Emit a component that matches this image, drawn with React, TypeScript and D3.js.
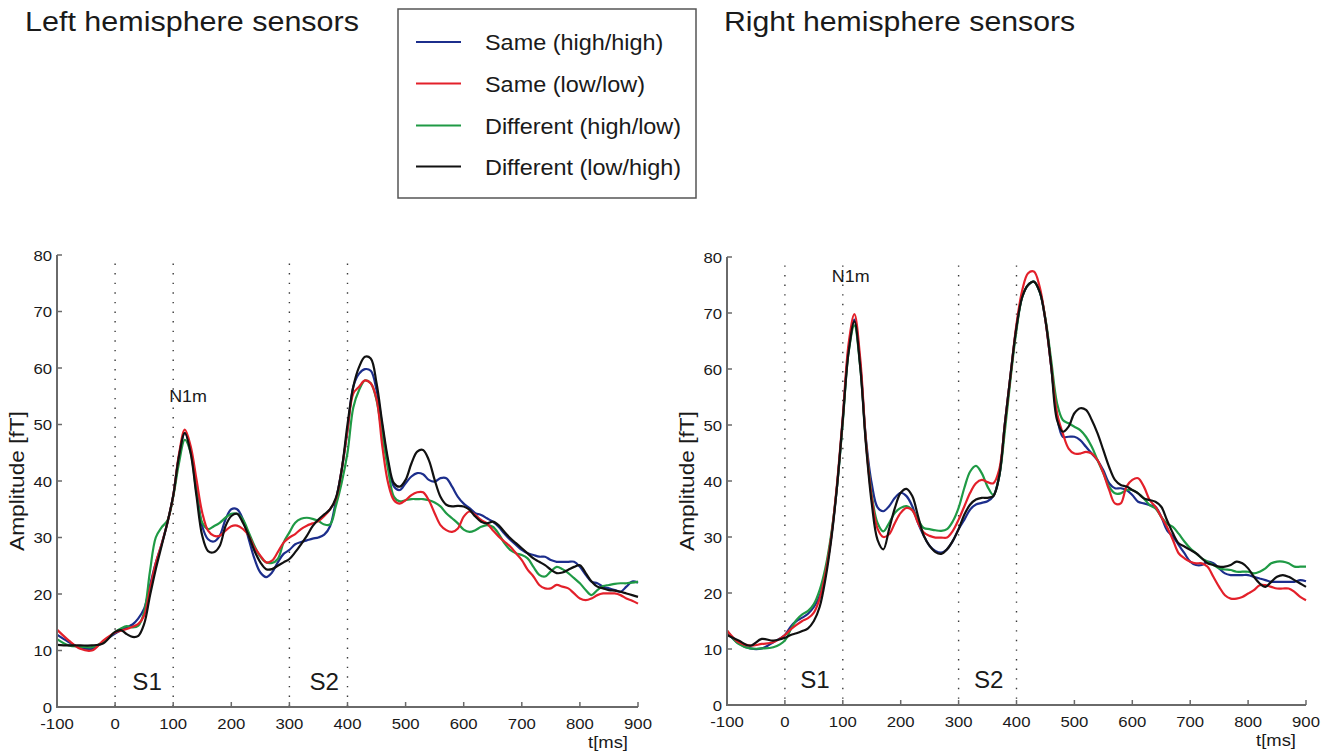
import React from 'react';
import * as d3 from 'd3';

// ---------- data ----------
const times = [
  -100, -80, -60, -40, -20,
  0, 10, 20, 30, 40, 50, 60, 70, 80, 90,
  100, 110, 120, 130, 140, 150, 160, 170, 180, 190,
  200, 210, 220, 230, 240, 250, 260, 270, 280, 290,
  300, 310, 320, 330, 340, 350, 360, 370, 380, 390,
  400, 410, 420, 430, 440, 450, 460, 470, 480, 490,
  500, 510, 520, 530, 540, 550, 560, 570, 580, 590,
  600, 610, 620, 630, 640, 650, 660, 670, 680, 690,
  700, 710, 720, 730, 740, 750, 760, 770, 780, 790,
  800, 810, 820, 830, 840, 850, 860, 870, 880, 890,
  900,
];

const leftBlue = [
  12.8, 11.5, 10.5, 10.3, 11.6,
  13.0, 13.6, 14.1, 14.6, 15.7, 17.4, 21.5, 25.5, 28.8, 32.6,
  37.4, 44.4, 48.5, 45.5, 39.0, 32.0, 29.7, 29.3, 30.3, 33.2,
  35.0, 35.0, 33.2, 29.7, 26.2, 23.8, 23.0, 23.8, 25.6, 27.1,
  27.8, 28.8, 29.2, 29.5, 29.8, 30.0, 30.5, 32.0, 36.5, 42.0,
  49.0, 56.7, 59.0, 59.8, 59.5, 56.1, 49.6, 43.1, 39.0, 38.4,
  39.6, 40.8, 41.4, 41.2, 40.2, 39.9, 40.5, 40.5, 39.0, 37.2,
  36.0, 35.2, 34.3, 34.0, 33.4, 32.8, 31.9, 30.7, 29.6, 28.7,
  27.8, 27.2, 26.9, 26.6, 26.6, 26.0, 25.7, 25.7, 25.7, 25.7,
  24.8, 23.4, 22.2, 21.9, 21.3, 21.0, 20.7, 20.4, 21.3, 22.2,
  22.0,
];
const leftRed = [
  13.7, 11.8, 10.3, 10.0, 11.8,
  13.2, 13.5, 13.8, 14.2, 14.7, 16.2, 20.9, 25.5, 28.8, 32.6,
  37.4, 44.8, 49.1, 46.2, 40.3, 34.4, 31.2, 30.3, 30.3, 31.2,
  32.0, 32.1, 31.5, 30.3, 28.2, 26.8, 25.6, 25.9, 27.4, 29.1,
  30.0, 30.6, 31.5, 32.1, 32.5, 32.9, 33.8, 35.0, 36.8, 42.0,
  49.0, 55.5, 56.7, 57.8, 57.3, 54.5, 46.1, 39.6, 36.6, 36.0,
  36.6, 37.5, 38.0, 38.0, 36.6, 34.3, 32.2, 31.3, 31.0, 31.6,
  33.7, 34.6, 34.0, 33.1, 32.5, 31.3, 30.2, 29.3, 28.4, 27.2,
  26.0, 24.3, 23.1, 21.6, 21.0, 21.0, 21.6, 21.3, 21.0, 20.1,
  19.2, 18.9, 19.2, 19.8, 20.1, 20.1, 20.1, 19.8, 19.2, 18.8,
  18.3,
];
const leftGreen = [
  12.0, 10.9, 10.7, 10.6, 11.5,
  13.3, 13.9, 14.3, 14.1, 14.4, 16.8, 24.0, 30.0, 31.8, 33.0,
  37.2, 43.2, 47.3, 45.0, 38.0, 32.6, 31.5, 32.0, 32.6, 33.5,
  34.2, 34.2, 33.2, 30.9, 28.5, 26.6, 25.6, 25.5, 26.2, 29.1,
  30.9, 32.6, 33.3, 33.5, 33.3, 32.9, 32.3, 32.3, 35.6, 39.7,
  45.0, 53.0, 56.1, 57.8, 57.3, 54.3, 47.9, 42.0, 37.2, 36.4,
  36.6, 36.8, 36.8, 36.8, 36.6, 36.2, 35.5, 34.3, 33.4, 32.5,
  31.4, 31.0, 31.3, 31.9, 32.2, 31.9, 30.7, 29.0, 27.8, 27.2,
  26.9, 26.3, 24.8, 23.4, 23.1, 24.0, 24.8, 24.4, 23.7, 22.8,
  21.9, 20.7, 19.8, 20.7, 21.4, 21.6, 21.8, 21.9, 21.9, 22.0,
  22.2,
];
const leftBlack = [
  11.0, 10.9, 10.9, 10.9, 11.3,
  13.3, 13.6, 12.9, 12.4, 12.6, 14.7, 19.7, 24.4, 28.5, 32.6,
  37.4, 44.4, 48.5, 45.0, 37.4, 30.3, 27.6, 27.4, 28.5, 32.0,
  33.8, 34.2, 32.6, 30.3, 27.6, 25.6, 24.4, 24.4, 25.0, 25.6,
  26.2, 27.4, 28.8, 30.3, 32.0, 33.2, 34.1, 35.0, 37.0, 42.0,
  50.0, 56.7, 60.2, 62.0, 61.7, 57.3, 50.2, 43.7, 39.6, 39.0,
  40.2, 43.1, 45.2, 45.5, 43.7, 40.2, 37.2, 35.8, 35.5, 35.6,
  35.5, 34.9, 33.7, 32.8, 32.5, 32.8, 32.2, 31.0, 29.9, 29.0,
  28.1, 27.2, 26.3, 25.7, 25.1, 24.3, 23.7, 23.8, 24.3, 24.8,
  25.1, 23.7, 22.2, 21.3, 21.0, 20.7, 20.6, 20.4, 20.1, 19.8,
  19.5,
];

const rightBlue = [
  13.0, 11.0, 10.1, 10.1, 11.2,
  12.5, 14.0, 15.0, 15.6, 16.3, 17.5, 19.5, 23.5, 30.0, 39.0,
  51.0, 63.5, 68.8, 61.0, 47.5, 39.5, 35.3, 34.6, 35.5, 37.0,
  37.9, 37.3, 35.5, 32.5, 30.2, 28.4, 27.5, 27.2, 27.8, 29.3,
  31.4, 33.1, 34.9, 35.8, 36.1, 36.4, 37.3, 40.8, 50.3, 59.2,
  67.5, 72.9, 75.0, 75.6, 73.8, 68.7, 60.4, 51.5, 47.9, 47.9,
  47.9, 47.3, 46.1, 44.9, 43.7, 41.9, 39.6, 38.7, 38.7, 38.4,
  37.5, 36.3, 36.0, 35.7, 35.4, 33.6, 31.2, 30.1, 28.6, 27.1,
  25.6, 25.0, 25.0, 25.6, 25.3, 24.4, 23.5, 23.2, 23.2, 23.2,
  23.2, 22.9, 22.6, 22.3, 22.0, 22.0, 22.0, 22.0, 22.0, 22.3,
  22.1,
];
const rightRed = [
  13.3, 11.2, 10.6, 10.9, 11.2,
  12.5, 13.5, 14.3, 15.0, 15.5, 16.5, 19.0, 23.5, 30.0, 39.5,
  51.5, 64.5, 69.8, 62.0, 47.0, 37.0, 31.5, 30.0, 30.5, 32.5,
  34.3, 35.2, 34.8, 32.5, 30.8, 30.2, 29.9, 29.9, 29.9, 31.1,
  33.1, 35.5, 37.9, 39.6, 40.2, 39.8, 39.6, 42.0, 50.3, 59.2,
  68.0, 74.1, 77.1, 77.4, 74.7, 68.7, 60.4, 52.1, 48.5, 45.8,
  44.9, 44.9, 45.2, 44.9, 43.7, 41.4, 38.4, 36.0, 36.0, 39.0,
  40.2, 40.5, 39.0, 36.6, 35.4, 33.6, 31.8, 29.5, 27.1, 26.2,
  25.6, 25.3, 25.3, 24.7, 22.9, 21.1, 19.6, 19.0, 19.0, 19.3,
  19.9, 20.5, 21.4, 21.4, 21.1, 20.8, 20.8, 20.8, 20.2, 19.3,
  18.7,
];
const rightGreen = [
  13.3, 10.9, 10.1, 10.1, 10.3,
  11.5, 13.5, 15.2, 16.2, 16.8, 18.0, 20.5, 24.5, 30.5, 39.0,
  50.5, 63.0, 67.8, 60.5, 47.0, 37.5, 32.5, 31.0, 32.5, 34.3,
  35.2, 35.5, 34.8, 33.1, 31.6, 31.4, 31.2, 31.1, 31.4, 32.8,
  35.2, 38.8, 41.7, 42.7, 41.4, 39.0, 37.5, 40.8, 49.0, 58.5,
  67.0, 72.9, 75.0, 75.6, 73.8, 69.0, 61.5, 53.9, 50.9, 50.3,
  49.7, 49.1, 47.9, 46.1, 43.7, 41.4, 39.0, 37.8, 37.8, 38.4,
  38.4, 37.8, 36.9, 35.7, 35.1, 33.6, 32.4, 31.8, 30.6, 29.2,
  28.0, 27.1, 26.2, 25.6, 25.0, 24.4, 24.2, 24.1, 23.8, 23.8,
  23.8, 23.5, 23.8, 24.4, 25.3, 25.6, 25.6, 25.3, 24.7, 24.7,
  24.7,
];
const rightBlack = [
  12.5, 11.5, 10.6, 11.8, 11.5,
  12.0, 12.5, 12.8, 13.2, 13.7, 15.0, 17.5, 22.5, 29.5, 39.0,
  51.0, 63.0, 68.5, 60.5, 46.5, 36.0, 29.5, 27.8, 31.4, 35.2,
  37.9, 38.6, 37.3, 33.7, 30.2, 28.4, 27.3, 27.0, 27.8, 29.3,
  31.4, 34.0, 35.8, 36.7, 37.0, 37.0, 37.3, 40.8, 50.3, 59.2,
  67.5, 72.9, 75.0, 75.6, 73.8, 68.7, 60.4, 50.9, 48.8, 49.7,
  52.1, 53.0, 52.7, 50.9, 48.5, 45.5, 42.5, 40.2, 39.3, 39.0,
  38.4, 37.8, 36.9, 36.6, 36.3, 35.4, 33.0, 30.7, 28.9, 28.3,
  27.7, 27.1, 26.2, 25.3, 25.0, 24.7, 24.7, 25.0, 25.6, 25.3,
  24.4, 22.9, 21.7, 21.1, 22.0, 22.9, 23.2, 22.9, 22.3, 21.7,
  21.1,
];

const seriesNames = ['Same (high/high)', 'Same (low/low)', 'Different (high/low)', 'Different (low/high)'];
const seriesColors = ['#1c2e8c', '#e3202a', '#1f9a45', '#111111'];
const xTicks = [-100, 0, 100, 200, 300, 400, 500, 600, 700, 800, 900];
const yTicks = [0, 10, 20, 30, 40, 50, 60, 70, 80];
const markerTimes = [0, 100, 300, 400];
const titles = ['Left hemisphere sensors', 'Right hemisphere sensors'];

const FONT = '"Liberation Sans", Arial, Helvetica, sans-serif';
const AXIS = '#6a6a6a';

type TxtProps = {
  x: number; y: number; size: number; anchor?: string; rotate?: number; sx?: number;
  fill?: string; children: React.ReactNode;
};
function Txt({ x, y, size, anchor = 'start', rotate = 0, sx = 1.1, fill = '#1a1a1a', children }: TxtProps) {
  return (
    <text
      transform={`translate(${x},${y}) rotate(${rotate}) scale(${sx},1)`}
      fontSize={size}
      textAnchor={anchor as any}
      fontFamily={FONT}
      fill={fill}
    >
      {children}
    </text>
  );
}

type PanelProps = {
  x0: number; x1: number; y0: number; y80: number;
  series: number[][];
  s1: number; s2: number; n1m: [number, number];
};

function Panel({ x0, x1, y0, y80, series, s1, s2, n1m }: PanelProps) {
  const x = d3.scaleLinear().domain([-100, 900]).range([x0, x1]);
  const y = d3.scaleLinear().domain([0, 80]).range([y0, y80]);
  const line = d3
    .line<number>()
    .x((_, i) => x(times[i]))
    .y((d) => y(d))
    .curve(d3.curveCatmullRom.alpha(0.5));
  const drawOrder = [0, 2, 1, 3];
  return (
    <g>
      {markerTimes.map((t) => (
        <line
          key={'m' + t}
          x1={x(t)} x2={x(t)} y1={y(78.5)} y2={y(0)}
          stroke="#3a3a3a" strokeWidth={1.4} strokeDasharray="1.4 8.2"
        />
      ))}
      {drawOrder.map((k) => (
        <path
          key={'s' + k}
          d={line(series[k]) || ''}
          fill="none"
          stroke={seriesColors[k]}
          strokeWidth={2.2}
          strokeLinejoin="round"
        />
      ))}
      <path d={`M${x0},${y(80)}V${y(0)}H${x1}`} fill="none" stroke={AXIS} strokeWidth={2} />
      {yTicks.map((v) => (
        <g key={'y' + v}>
          <line x1={x0} x2={x0 + 5} y1={y(v)} y2={y(v)} stroke={AXIS} strokeWidth={1.5} />
          <Txt x={x0 - 5} y={y(v) + 5.5} size={15.5} anchor="end" sx={1.08}>{String(v)}</Txt>
        </g>
      ))}
      {xTicks.map((t) => (
        <g key={'x' + t}>
          <line x1={x(t)} x2={x(t)} y1={y(0)} y2={y(0) - 5} stroke={AXIS} strokeWidth={1.5} />
          <Txt x={x(t)} y={y(0) + 22} size={15.5} anchor="middle" sx={1.08}>{String(t)}</Txt>
        </g>
      ))}
      <Txt x={x1 - 30} y={y(0) + 41} size={16.5} anchor="middle" sx={1.12}>t[ms]</Txt>
      <Txt x={x0 - 33} y={(y(0) + y(80)) / 2} size={21} anchor="middle" rotate={-90} sx={1.08}>
        Amplitude [fT]
      </Txt>
      <Txt x={x(s1)} y={y(3)} size={23} anchor="middle" sx={1.05}>S1</Txt>
      <Txt x={x(s2)} y={y(3)} size={23} anchor="middle" sx={1.05}>S2</Txt>
      <Txt x={x(n1m[0])} y={y(n1m[1])} size={16} sx={1.12}>N1m</Txt>
    </g>
  );
}

function Legend() {
  const rowY = [42, 83.5, 125.5, 166.5];
  return (
    <g>
      <rect x={398} y={9} width={298} height={189} fill="#fff" stroke="#555" strokeWidth={1.5} />
      {seriesNames.map((name, i) => (
        <g key={name}>
          <line x1={416} x2={461} y1={rowY[i]} y2={rowY[i]} stroke={seriesColors[i]} strokeWidth={2.2} />
          <Txt x={485} y={rowY[i] + 8} size={21.5} sx={1.09}>{name}</Txt>
        </g>
      ))}
    </g>
  );
}

export default function App() {
  return (
    <svg
      width={1338}
      height={753}
      viewBox="0 0 1338 753"
      style={{ position: 'absolute', left: 0, top: 0, background: '#fff' }}
    >
      <rect x={0} y={0} width={1338} height={753} fill="#fff" />
      <Txt x={25} y={31} size={27} sx={1.13}>{titles[0]}</Txt>
      <Txt x={724} y={31} size={27} sx={1.12}>{titles[1]}</Txt>
      <Legend />
      <Panel
        x0={57} x1={638} y0={707} y80={255}
        series={[leftBlue, leftRed, leftGreen, leftBlack]}
        s1={55} s2={360} n1m={[93, 54]}
      />
      <Panel
        x0={727} x1={1306} y0={705} y80={257}
        series={[rightBlue, rightRed, rightGreen, rightBlack]}
        s1={52} s2={352} n1m={[81, 75.5]}
      />
    </svg>
  );
}
